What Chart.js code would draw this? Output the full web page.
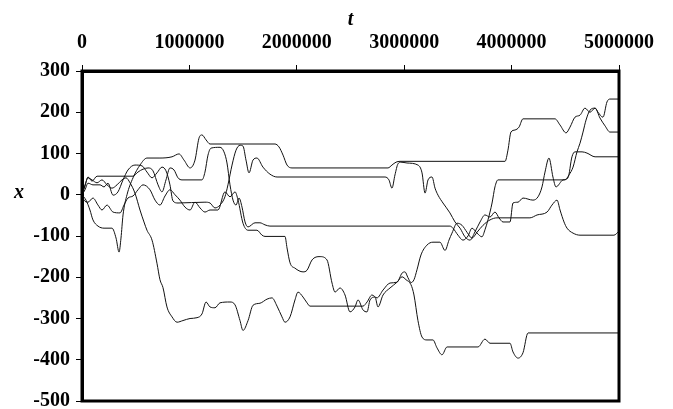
<!DOCTYPE html>
<html>
<head>
<meta charset="utf-8">
<script src="https://cdn.jsdelivr.net/npm/chart.js@4/dist/chart.umd.min.js"></script>
<style>
  html, body { margin: 0; padding: 0; background: #fff; }
  #wrap { width: 673px; height: 409px; }
</style>
</head>
<body>
<div id="wrap"><canvas id="chart" width="673" height="409"></canvas></div>
<script>
// five walks, each point is [t in thousands, x]
const walkA = [[0,0],[37,-13],[74,-37],[102,-61],[149,-76],[205,-81],[279,-81],[317,-105],[345,-139],[363,-105],[382,-49],[419,0],[475,41],[540,72],[605,89],[726,89],[838,92],[903,99],[950,84],[1006,65],[1052,84],[1089,137],[1117,145],[1155,133],[1192,123],[1797,123],[1834,116],[1872,96],[1909,72],[1955,65],[2849,65],[2886,72],[2924,79],[2961,81],[3939,81],[3966,108],[3994,152],[4032,157],[4069,164],[4106,184],[4404,184],[4451,169],[4507,150],[4544,164],[4590,188],[4637,193],[4683,210],[4730,200],[4777,210],[4805,200],[4851,188],[4888,225],[4916,232],[5000,232]];

const walkB = [[0,0],[28,21],[56,43],[93,33],[140,45],[475,45],[521,55],[568,62],[615,65],[661,58],[708,24],[745,7],[782,36],[819,65],[857,60],[894,41],[931,36],[1117,36],[1145,55],[1173,96],[1201,113],[1285,115],[1322,104],[1350,77],[1378,24],[1406,-13],[1434,-25],[1462,-8],[1490,-30],[1518,-66],[1546,-78],[1611,-68],[1657,-68],[1704,-73],[1750,-76],[3426,-76],[3454,-81],[3501,-98],[3547,-110],[3594,-100],[3631,-81],[3678,-93],[3724,-102],[3752,-85],[3780,-61],[3818,-20],[3845,19],[3873,36],[4497,36],[4534,48],[4572,67],[4609,104],[4637,125],[4665,152],[4693,181],[4730,205],[4777,210],[4823,186],[4870,167],[4916,152],[5000,152]];

const walkC = [[0,0],[28,12],[56,28],[102,24],[168,24],[205,19],[242,28],[289,-1],[335,7],[382,36],[428,60],[493,72],[559,70],[605,55],[652,41],[698,53],[745,67],[782,58],[819,24],[847,-15],[894,-20],[1145,-18],[1192,-20],[1238,-32],[1285,-25],[1331,-5],[1359,24],[1397,72],[1434,108],[1471,120],[1499,118],[1527,84],[1555,53],[1592,84],[1629,89],[1685,67],[1750,50],[1816,43],[2821,43],[2858,36],[2886,16],[2914,48],[2942,75],[2970,79],[3026,77],[3128,72],[3166,53],[3194,4],[3222,36],[3259,43],[3287,16],[3315,-1],[3361,-20],[3426,-44],[3473,-66],[3520,-81],[3566,-102],[3613,-110],[3659,-90],[3706,-66],[3752,-49],[3799,-54],[3845,-42],[3883,-56],[3920,-66],[3985,-66],[4013,-20],[4060,-18],[4106,-8],[4199,-13],[4246,-5],[4283,19],[4311,55],[4348,89],[4385,43],[4413,19],[4479,36],[4525,41],[4562,92],[4590,104],[4656,104],[4702,101],[4777,92],[5000,92]];

const walkD = [[0,0],[19,-13],[56,-18],[102,-8],[149,-25],[186,-37],[233,-25],[289,-42],[354,-44],[391,-25],[428,-8],[475,-3],[521,12],[568,24],[633,12],[680,-13],[726,-25],[773,-3],[819,12],[866,0],[912,-13],[959,-30],[1006,-37],[1052,-18],[1099,-32],[1145,-42],[1192,-37],[1266,-37],[1331,7],[1378,-5],[1425,7],[1453,-13],[1499,-69],[1546,-86],[1629,-86],[1676,-98],[1704,-101],[1890,-101],[1909,-129],[1937,-165],[1983,-178],[2058,-187],[2095,-183],[2142,-158],[2216,-150],[2281,-158],[2328,-214],[2356,-236],[2402,-226],[2449,-243],[2495,-284],[2542,-272],[2570,-255],[2616,-279],[2654,-284],[2682,-255],[2728,-248],[2756,-272],[2803,-243],[2868,-226],[2933,-212],[2980,-199],[3017,-206],[3063,-218],[3091,-243],[3128,-305],[3166,-345],[3212,-352],[3268,-352],[3305,-371],[3352,-388],[3399,-369],[3687,-369],[3752,-350],[3799,-360],[3985,-360],[4013,-381],[4060,-396],[4106,-383],[4153,-335],[5000,-335]];

const walkE = [[0,0],[28,24],[56,41],[93,36],[140,29],[186,36],[233,24],[279,16],[326,24],[372,36],[410,41],[447,29],[493,4],[540,-37],[577,-66],[605,-86],[652,-110],[698,-166],[726,-206],[754,-225],[791,-272],[838,-296],[885,-309],[940,-305],[1006,-300],[1071,-298],[1117,-289],[1155,-260],[1192,-272],[1238,-274],[1285,-262],[1378,-260],[1425,-267],[1471,-305],[1499,-329],[1546,-305],[1592,-268],[1657,-263],[1723,-253],[1769,-250],[1816,-270],[1862,-296],[1890,-309],[1937,-296],[1983,-255],[2011,-236],[2058,-248],[2095,-262],[2123,-270],[2616,-270],[2654,-260],[2700,-243],[2747,-250],[2803,-231],[2868,-214],[2933,-212],[2980,-190],[3007,-187],[3035,-201],[3063,-213],[3091,-206],[3119,-182],[3156,-146],[3212,-122],[3268,-115],[3333,-115],[3380,-135],[3417,-110],[3445,-93],[3492,-69],[3538,-74],[3585,-91],[3631,-105],[3678,-91],[3734,-74],[3799,-61],[3864,-56],[4171,-56],[4237,-49],[4330,-42],[4376,-25],[4423,-13],[4451,-37],[4488,-66],[4516,-81],[4572,-93],[4637,-98],[4953,-98],[5000,-88]];

const walks = [walkA, walkB, walkC, walkD, walkE];

const tRange = [0, 5000000];
const tStep = 1000000;
const xRange = [-500, 300];
const xStep = 100;

const serif = '"Liberation Serif", "Times New Roman", serif';

// thick frame round the plot + the horizontal "x" label
const framePlugin = {
    id: 'frame',
    afterDraw(chart) {
        const { ctx, chartArea: a } = chart;
        ctx.save();
        ctx.strokeStyle = '#000';
        ctx.lineWidth = 3;
        ctx.strokeRect(a.left, a.top, a.right - a.left, a.bottom - a.top);
        ctx.fillStyle = '#000';
        ctx.font = 'italic bold 20px ' + serif;
        ctx.textAlign = 'center';
        ctx.textBaseline = 'middle';
        ctx.fillText('x', 19, chart.scales.y.getPixelForValue(0) - 2);
        ctx.restore();
    }
};

new Chart(document.getElementById('chart'), {
    type: 'line',
    data: {
        datasets: walks.map(w => ({
            data: w.map(p => ({ x: p[0] * 1000, y: p[1] })),
            borderColor: '#111',
            borderWidth: 1,
            pointRadius: 0,
            fill: false,
            cubicInterpolationMode: 'monotone'
        }))
    },
    options: {
        responsive: false,
        animation: false,
        devicePixelRatio: 1,
        layout: { padding: { left: 0, top: 0, right: 54, bottom: 8 } },
        plugins: { legend: { display: false }, tooltip: { enabled: false } },
        scales: {
            x: {
                type: 'linear',
                position: 'top',
                min: tRange[0],
                max: tRange[1],
                ticks: {
                    stepSize: tStep,
                    autoSkip: false,
                    maxRotation: 0,
                    padding: 10,
                    color: '#000',
                    font: { family: serif, size: 20, weight: 'bold' },
                    callback: v => String(v)
                },
                grid: { drawOnChartArea: false, drawTicks: true, tickLength: 6, color: '#000', lineWidth: 1 },
                border: { display: true, color: '#000', width: 3 },
                title: {
                    display: true,
                    text: 't',
                    color: '#000',
                    font: { family: serif, size: 20, weight: 'bold', style: 'italic' },
                    padding: { top: 8, bottom: 0 }
                },
                afterFit: s => { s.height = 71; s.paddingLeft = 0; s.paddingRight = 0; }
            },
            y: {
                type: 'linear',
                min: xRange[0],
                max: xRange[1],
                ticks: {
                    stepSize: xStep,
                    padding: 6,
                    color: '#000',
                    font: { family: serif, size: 20, weight: 'bold' },
                    callback: v => String(v)
                },
                grid: { drawOnChartArea: false, drawTicks: true, tickLength: 6, color: '#000', lineWidth: 1 },
                border: { display: true, color: '#000', width: 3 },
                afterFit: s => { s.width = 82; s.paddingTop = 0; s.paddingBottom = 0; }
            }
        }
    },
    plugins: [framePlugin]
});
</script>
</body>
</html>
